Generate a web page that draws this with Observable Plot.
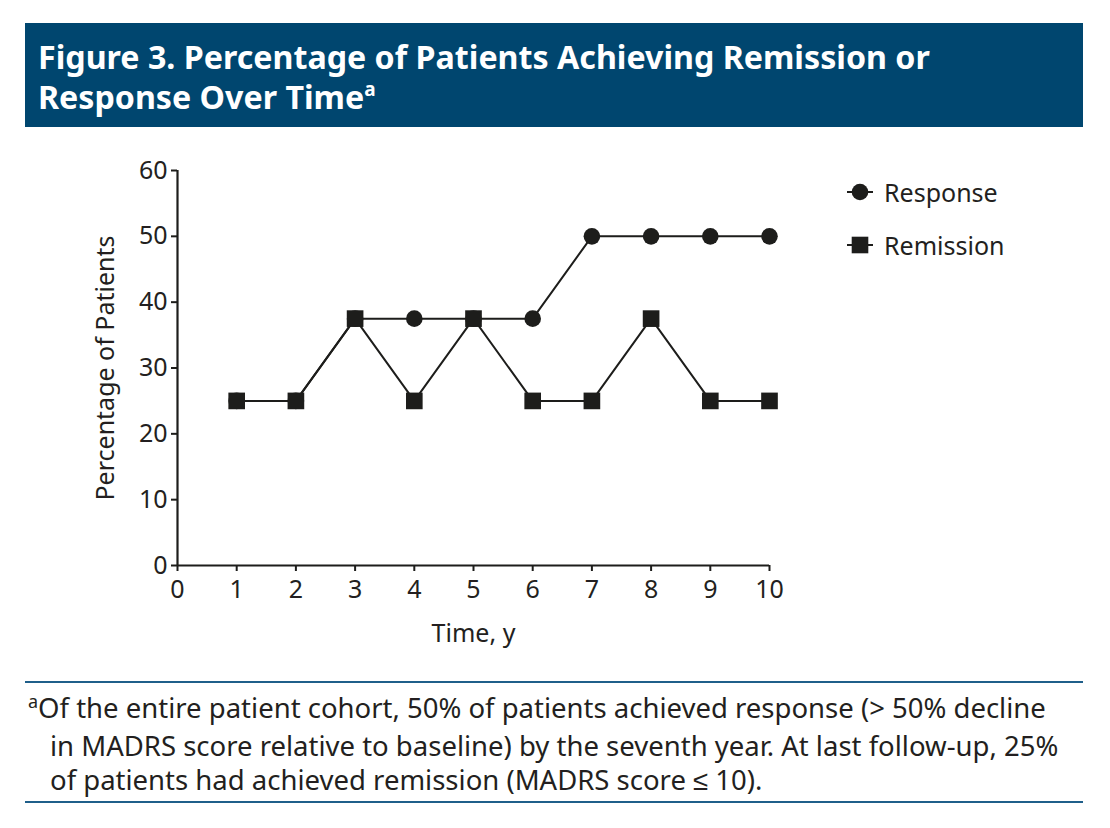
<!DOCTYPE html>
<html>
<head>
<meta charset="utf-8">
<script src="https://cdn.jsdelivr.net/npm/d3@7"></script>
<script src="https://cdn.jsdelivr.net/npm/@observablehq/plot@0.6"></script>
<style>
  html, body { margin: 0; padding: 0; background: #fff; }
  body { width: 1110px; height: 828px; position: relative; overflow: hidden; font-family: "Noto Sans", sans-serif; color: #231f20; }
  #title { position: absolute; left: 25px; top: 23px; width: 1058px; height: 104px; background: #00466f; color: #fff; box-sizing: border-box; padding: 14px 0 0 13px; font-weight: 700; font-size: 32.2px; line-height: 40px; }
  #title sup { font-size: 19px; vertical-align: 0; position: relative; top: -13px; }
  #chart { position: absolute; left: 0; top: 150px; }
  #legend { position: absolute; left: 846px; top: 172px; font-size: 25px; }
  #legend .row { position: absolute; left: 0; white-space: nowrap; height: 40px; display: flex; align-items: center; }
  #legend svg { margin-right: 10px; }
  #foot { position: absolute; left: 25px; top: 681px; width: 1058px; height: 122px; border-top: 2px solid #1f5f8a; border-bottom: 2px solid #1f5f8a; box-sizing: border-box; font-size: 27.5px; line-height: 34.5px; padding: 8px 0 0 3px; white-space: nowrap; }
  #foot .ind { padding-left: 22px; }
  #foot sup { font-size: 18px; vertical-align: 0; position: relative; top: -10px; }
</style>
</head>
<body>
<div id="title">Figure 3. Percentage of Patients Achieving Remission or<br>Response Over Time<sup>a</sup></div>
<div id="chart"></div>
<div id="legend"></div>
<div id="foot"><sup>a</sup>Of the entire patient cohort, 50% of patients achieved response (&gt; 50% decline<br><span class="ind">in MADRS score relative to baseline) by the seventh year. At last follow-up, 25%</span><br><span class="ind">of patients had achieved remission (MADRS score ≤ 10).</span></div>
<script>
const years = [1, 2, 3, 4, 5, 6, 7, 8, 9, 10];
const response = [25, 25, 37.5, 37.5, 37.5, 37.5, 50, 50, 50, 50];
const remission = [25, 25, 37.5, 25, 37.5, 25, 25, 37.5, 25, 25];
const xTicks = [0, 1, 2, 3, 4, 5, 6, 7, 8, 9, 10];
const yTicks = [0, 10, 20, 30, 40, 50, 60];
const seriesNames = ["Response", "Remission"];

const ink = "#1d1d1b";
const respData = years.map((t, i) => ({t, v: response[i]}));
const remData = years.map((t, i) => ({t, v: remission[i]}));

const chart = Plot.plot({
  width: 1110,
  height: 510,
  marginLeft: 177,
  marginRight: 341,
  marginTop: 20,
  marginBottom: 95,
  style: {fontFamily: "Noto Sans, sans-serif", fontSize: "25px", color: "#231f20", background: "white", overflow: "visible"},
  x: {domain: [0, 10], ticks: xTicks, label: null},
  y: {domain: [0, 60], ticks: yTicks, label: null},
  marks: [
    Plot.axisX({ticks: xTicks, tickSize: 6, tickPadding: 9, tickFormat: d => d, fontSize: 25, stroke: ink, strokeWidth: 2}),
    Plot.axisY({ticks: yTicks, tickSize: 6, tickPadding: 4, tickFormat: d => d, fontSize: 25, stroke: ink, strokeWidth: 2}),
    Plot.ruleX([0], {stroke: ink, strokeWidth: 2.2}),
    Plot.ruleY([0], {stroke: ink, strokeWidth: 2.2}),
    Plot.text(["Time, y"], {frameAnchor: "bottom", dy: 76, fontSize: 25, fill: "#231f20"}),
    Plot.text(["Percentage of Patients"], {frameAnchor: "left", textAnchor: "middle", dx: -72, rotate: -90, fontSize: 25, fill: "#231f20"}),
    Plot.line(respData, {x: "t", y: "v", stroke: ink, strokeWidth: 2}),
    Plot.line(remData, {x: "t", y: "v", stroke: ink, strokeWidth: 2}),
    Plot.dot(respData, {x: "t", y: "v", r: 8.3, symbol: "circle", fill: ink, stroke: "none"}),
    Plot.dot(remData, {x: "t", y: "v", r: 9.4, symbol: "square", fill: ink, stroke: "none"})
  ]
});
document.getElementById("chart").appendChild(chart);

// legend
const legend = document.getElementById("legend");
seriesNames.forEach((name, i) => {
  const row = document.createElement("div");
  row.className = "row";
  row.style.top = (i * 53) + "px";
  const shape = i === 0
    ? `<line x1="1" y1="14" x2="27" y2="14" stroke="${ink}" stroke-width="2"/><circle cx="14" cy="14" r="8.3" fill="${ink}"/>`
    : `<line x1="1" y1="14" x2="27" y2="14" stroke="${ink}" stroke-width="2"/><rect x="5.7" y="5.7" width="16.6" height="16.6" fill="${ink}"/>`;
  row.innerHTML = `<svg width="28" height="28">${shape}</svg><span>${name}</span>`;
  legend.appendChild(row);
});
</script>
</body>
</html>
